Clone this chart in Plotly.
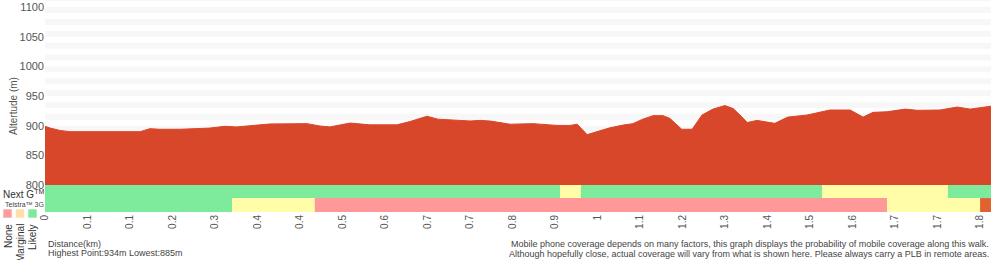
import plotly.graph_objects as go

# ---------------- data ----------------
dist_km = [0.000, 0.010, 0.029, 0.048, 0.183, 0.202, 0.221, 0.260, 0.317, 0.346,
           0.369, 0.433, 0.504, 0.529, 0.548, 0.587, 0.625, 0.677, 0.702, 0.735,
           0.756, 0.798, 0.818, 0.837, 0.856, 0.881, 0.895, 0.939, 0.958, 0.985,
           1.010, 1.024, 1.043, 1.062, 1.087, 1.112, 1.131, 1.150, 1.170, 1.189,
           1.202, 1.225, 1.245, 1.264, 1.285, 1.308, 1.324, 1.337, 1.351, 1.370,
           1.389, 1.404, 1.429, 1.466, 1.510, 1.549, 1.574, 1.593, 1.620, 1.655,
           1.678, 1.722, 1.755, 1.780, 1.820]
altitude_m = [899, 896, 892, 890, 890, 895, 894, 894, 896, 899,
              898, 903, 903.5, 899.5, 898, 904.5, 901.5, 901.5, 907, 916,
              911, 909.5, 908, 909, 908, 904.5, 902.5, 903.5, 902.5, 900.5,
              900.5, 902.5, 885, 890, 896.5, 901, 903.5, 911, 917, 917,
              912.5, 894, 894, 918, 928, 934, 929, 918, 905.5, 909,
              906, 904, 914.5, 918, 926.5, 926.5, 914.5, 922.5, 923.5, 928,
              926, 926.5, 931.5, 928, 933]

tick_labels = ["0", "0.1", "0.1", "0.2", "0.3", "0.4", "0.4", "0.5", "0.6", "0.7",
               "0.7", "0.8", "0.9", "1", "1.1", "1.2", "1.3", "1.4", "1.5", "1.6",
               "1.7", "1.7", "1.8"]
y_ticks = [800, 850, 900, 950, 1000, 1050, 1100]

# coverage segments: (start km, end km, level)
nextg_start = [0.000, 0.991, 1.031, 1.495, 1.737]
nextg_end = [0.991, 1.031, 1.495, 1.737, 1.820]
nextg_level = ["Likely", "Marginal", "Likely", "Marginal", "Likely"]

g3_start = [0.000, 0.360, 0.519, 1.620, 1.799]
g3_end = [0.360, 0.519, 1.620, 1.799, 1.820]
g3_level = ["Likely", "Marginal", "None", "Marginal", "Unknown"]

legend_levels = ["None", "Marginal", "Likely"]

highest = 934
lowest = 885

# ---------------- styling ----------------
RED = "#d9472a"
LEVEL_COLORS = {"Likely": "#7deb9b", "Marginal": "#fffda8", "None": "#ff9999",
                "Unknown": "#e0622f"}
LEGEND_COLORS = {"None": "#ff9b9b", "Marginal": "#ffdfa6", "Likely": "#7deb9b"}
FONT = "Liberation Sans"
TXT = "#444444"

X_MAX = dist_km[-1]
Y_MIN, Y_MAX = 754.5, 1112
ML, MR, MT, MB = 45, 9, 0, 48
W, H = 1000, 260
PW, PH = W - ML - MR, H - MT - MB
TICK_PX = 42.5


def px(xp):
    return (xp - ML) / PW


def py(yp):
    return (MT + PH - yp) / PH


fig = go.Figure()

# baseline for fill
fig.add_trace(go.Scatter(x=[0, X_MAX], y=[800, 800], mode="lines",
                         line=dict(width=0, color=RED), showlegend=False,
                         hoverinfo="skip"))
fig.add_trace(go.Scatter(x=dist_km, y=altitude_m, mode="lines", fill="tonexty",
                         fillcolor=RED, line=dict(width=1, color=RED, shape="linear"),
                         showlegend=False))

shapes = []
# stripes
lvl = 1090
while lvl > 800:
    shapes.append(dict(type="rect", xref="x", yref="y", x0=0, x1=X_MAX,
                       y0=lvl, y1=lvl + 10, fillcolor="#f7f7f7", line_width=0,
                       layer="below"))
    lvl -= 20
shapes.append(dict(type="rect", xref="x", yref="y", x0=0, x1=X_MAX,
                   y0=1110, y1=Y_MAX, fillcolor="#f7f7f7", line_width=0,
                   layer="below"))

# coverage bands
for s, e, l in zip(nextg_start, nextg_end, nextg_level):
    shapes.append(dict(type="rect", xref="x", yref="y", x0=s, x1=e, y0=778, y1=800,
                       fillcolor=LEVEL_COLORS[l], line_width=0, layer="above"))
for s, e, l in zip(g3_start, g3_end, g3_level):
    shapes.append(dict(type="rect", xref="x", yref="y", x0=s, x1=e, y0=Y_MIN, y1=778,
                       fillcolor=LEVEL_COLORS[l], line_width=0, layer="above"))

# legend squares
for i, l in enumerate(legend_levels):
    x0 = 3 + i * 12.5
    shapes.append(dict(type="rect", xref="paper", yref="paper",
                       x0=px(x0), x1=px(x0 + 9), y0=py(218), y1=py(209),
                       fillcolor=LEGEND_COLORS[l],
                       line=dict(color="rgba(255,255,255,0.6)", width=1)))

annotations = [
    dict(text="Next G<sup>TM</sup>", x=px(1), y=py(194), xref="paper", yref="paper",
         xanchor="left", yanchor="middle", showarrow=False,
         font=dict(family=FONT, size=10, color="#333")),
    dict(text="Telstra™ 3G", x=px(3), y=py(204), xref="paper", yref="paper",
         xanchor="left", yanchor="middle", showarrow=False,
         font=dict(family=FONT, size=7, color="#444")),
]
for i, l in enumerate(legend_levels):
    annotations.append(dict(text=l, x=px(8 + i * 12), y=py(222), xref="paper",
                            yref="paper", xanchor="center", yanchor="top",
                            textangle=-90, showarrow=False,
                            font=dict(family=FONT, size=10, color="#333")))
annotations += [
    dict(text="Distance(km)", x=px(46), y=py(244), xref="paper", yref="paper",
         xanchor="left", yanchor="middle", showarrow=False,
         font=dict(family=FONT, size=9, color=TXT)),
    dict(text=f"Highest Point:{highest}m Lowest:{lowest}m", x=px(46), y=py(253.5),
         xref="paper", yref="paper", xanchor="left", yanchor="middle",
         showarrow=False, font=dict(family=FONT, size=9, color=TXT)),
    dict(text="Mobile phone coverage depends on many factors, this graph displays the probability of mobile coverage along this walk.",
         x=px(991), y=py(244), xref="paper", yref="paper", xanchor="right",
         yanchor="middle", showarrow=False, font=dict(family=FONT, size=9, color=TXT)),
    dict(text="Although hopefully close, actual coverage will vary from what is shown here. Please always carry a PLB in remote areas.",
         x=px(991), y=py(254), xref="paper", yref="paper", xanchor="right",
         yanchor="middle", showarrow=False, font=dict(family=FONT, size=9, color=TXT)),
]

tick_step = TICK_PX / PW * X_MAX
tick_vals = [i * tick_step for i in range(len(tick_labels))]

fig.update_layout(
    width=W, height=H,
    margin=dict(l=ML, r=MR, t=MT, b=MB, pad=0),
    plot_bgcolor="white", paper_bgcolor="white",
    shapes=shapes, annotations=annotations,
    showlegend=False,
    xaxis=dict(range=[0, X_MAX], tickvals=tick_vals, ticktext=tick_labels,
               tickangle=-90, showgrid=False, zeroline=False, showline=False,
               ticks="", tickfont=dict(family=FONT, size=10, color="#555"),
               fixedrange=True),
    yaxis=dict(range=[Y_MIN, Y_MAX], tickvals=y_ticks, showgrid=False,
               zeroline=False, showline=False, ticks="",
               tickfont=dict(family=FONT, size=11, color="#555"),
               title=dict(text="Altertude (m)", font=dict(family=FONT, size=10,
                                                          color="#555"), standoff=0),
               fixedrange=True),
)

fig.write_html("out.html")
